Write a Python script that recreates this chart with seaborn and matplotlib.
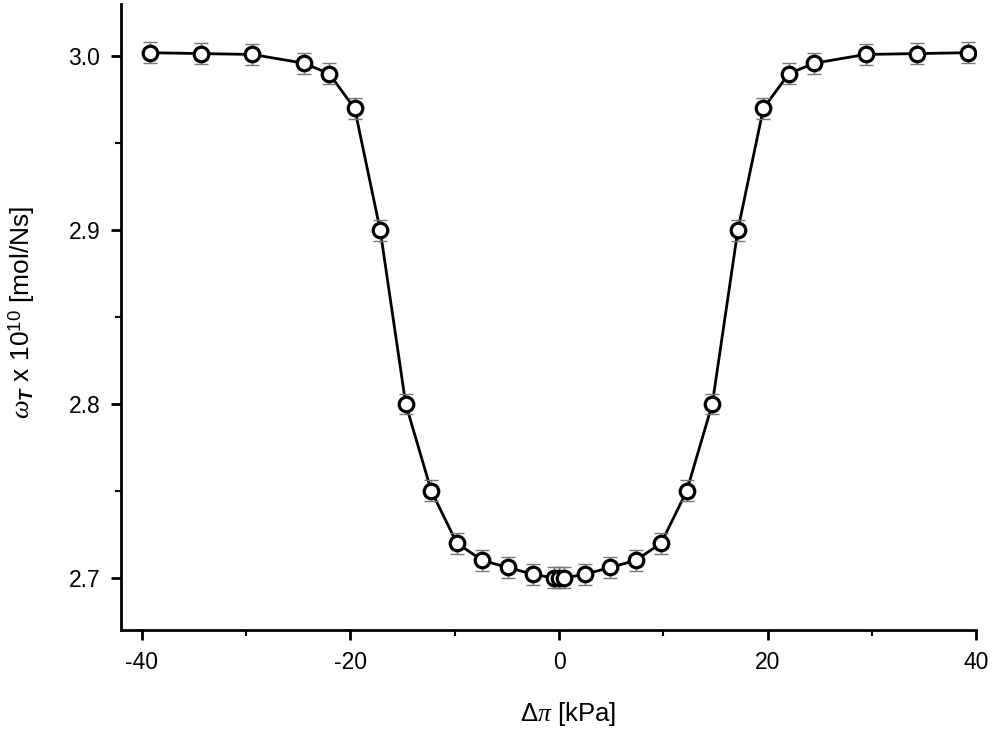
import numpy as np
import pandas as pd
import matplotlib
matplotlib.use("Agg")
import matplotlib.pyplot as plt
import seaborn as sns
from matplotlib.ticker import MultipleLocator

# Data
delta_pi = [-39.2, -34.3, -29.4, -24.5, -22.05, -19.6, -17.15, -14.7, -12.25, -9.8,
            -7.35, -4.9, -2.45, -0.5, 0.0, 0.5, 2.45, 4.9, 7.35, 9.8, 12.25, 14.7,
            17.15, 19.6, 22.05, 24.5, 29.4, 34.3, 39.2]
omega = [3.002, 3.0015, 3.001, 2.996, 2.990, 2.970, 2.900, 2.800, 2.750, 2.720,
         2.710, 2.706, 2.702, 2.700, 2.700, 2.700, 2.702, 2.706, 2.710, 2.720, 2.750, 2.800,
         2.900, 2.970, 2.990, 2.996, 3.001, 3.0015, 3.002]
err = [0.006] * len(delta_pi)

df = pd.DataFrame({"dp": delta_pi, "w": omega, "e": err})

sns.set_theme(style="ticks")
plt.rcParams["font.family"] = ["Liberation Sans", "DejaVu Sans"]
plt.rcParams["mathtext.fontset"] = "custom"
plt.rcParams["mathtext.rm"] = "Liberation Sans"
plt.rcParams["mathtext.it"] = "Liberation Serif:italic"
plt.rcParams["mathtext.bf"] = "Liberation Sans:bold"
plt.rcParams["mathtext.bfit"] = "Liberation Sans:italic:bold"

fig = plt.figure(figsize=(9.93, 7.32), dpi=100)
ax = fig.add_axes([0.1219, 0.1393, 0.983 - 0.1219, 0.9945 - 0.1393])

sns.lineplot(data=df, x="dp", y="w", ax=ax, color="black", linewidth=2.0, sort=False, zorder=2)
ax.errorbar(df["dp"], df["w"], yerr=df["e"], fmt="none", ecolor="#777777",
            elinewidth=1.0, capsize=5, capthick=1.0, zorder=3)
sns.scatterplot(data=df, x="dp", y="w", ax=ax, s=110, marker="o", facecolor="white",
                edgecolor="black", linewidth=2.3, zorder=4)

ax.set_xlim(-42, 40)
ax.set_ylim(2.67, 3.03)
ax.xaxis.set_minor_locator(MultipleLocator(10))
ax.yaxis.set_minor_locator(MultipleLocator(0.05))
ax.set_yticks([2.7, 2.8, 2.9, 3.0])
ax.set_yticklabels(["2.7", "2.8", "2.9", "3.0"])
ax.set_xticks([-40, -20, 0, 20, 40])
ax.set_xticklabels(["-40", "-20", "0", "20", "40"])

for s in ["top", "right"]:
    ax.spines[s].set_visible(False)
for s in ["left", "bottom"]:
    ax.spines[s].set_linewidth(2.0)
    ax.spines[s].set_color("black")

ax.tick_params(axis="both", which="major", direction="out", length=7, width=2,
               labelsize=16.5, colors="black", pad=8)
ax.tick_params(axis="both", which="minor", direction="out", length=4, width=1.5, colors="black")

ax.set_xlabel(r"$\Delta\pi$ [kPa]", fontsize=18.5, color="black")
ax.set_ylabel(r"$\omega_{\mathbfit{T}}$ x 10$^{10}$ [mol/Ns]", fontsize=19, color="black")
ax.xaxis.set_label_coords(0.523, -0.112)
ax.yaxis.set_label_coords(-0.098, 0.508)

fig.savefig("out.png", dpi=100)
